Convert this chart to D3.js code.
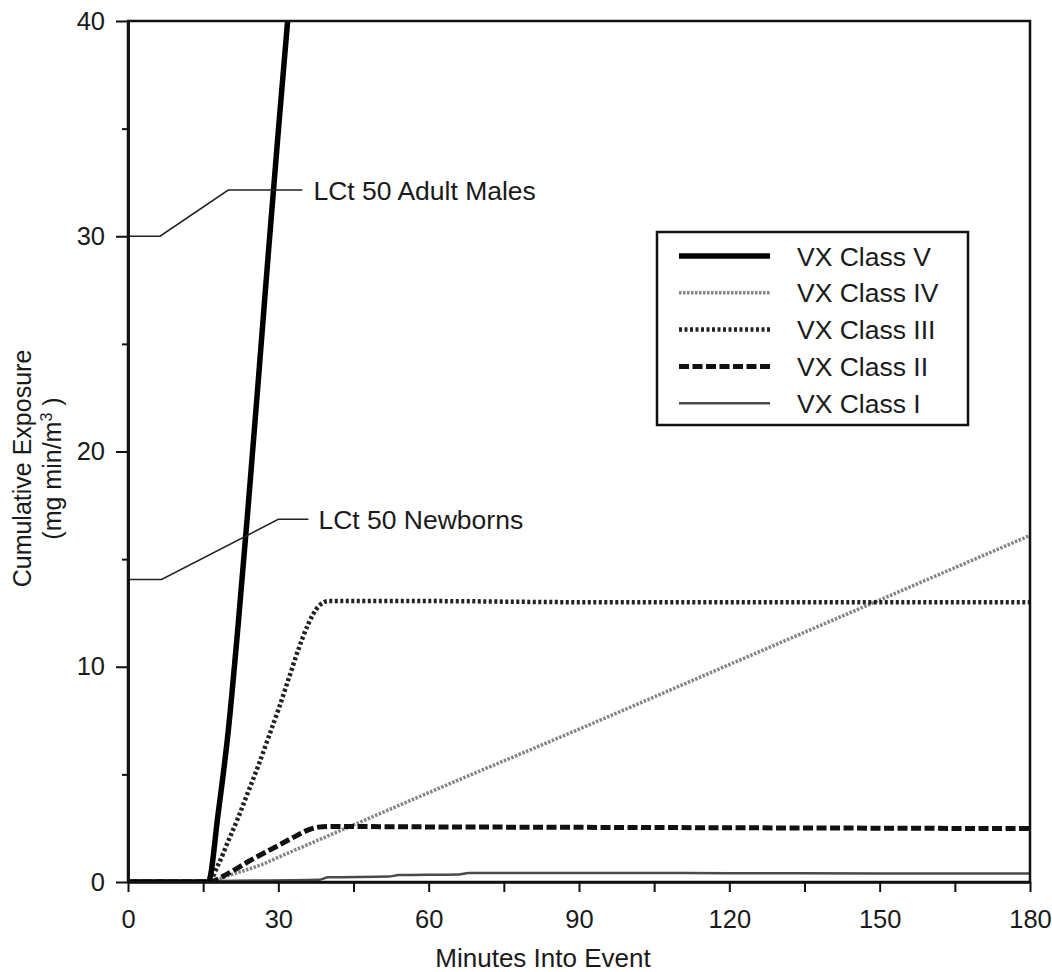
<!DOCTYPE html>
<html>
<head>
<meta charset="utf-8">
<script src="https://cdn.jsdelivr.net/npm/d3@7"></script>
<style>
  body { margin: 0; background: #fff; }
  svg text { font-family: "Liberation Sans", Arial, Helvetica, sans-serif; fill: #1a1a1a; }
</style>
</head>
<body>
<script>
// set the dimensions and margins of the graph
var margin = {top: 21, right: 22, bottom: 90, left: 128},
    width = 1052 - margin.left - margin.right,
    height = 972 - margin.top - margin.bottom;

// data (minutes, mg min/m3)
var classV_t   = [0, 16, 18, 20, 22, 24, 26, 28, 30, 32, 34];
var classV_v   = [0, 0, 3.2, 7, 12, 17.5, 23.3, 29.2, 34.9, 40.4, 46];

var classIV_t  = [0, 16, 20, 26, 32, 40, 60, 90, 120, 150, 180];
var classIV_v  = [0, 0, 0.3, 0.75, 1.35, 2.15, 4.15, 7.1, 10.1, 13.1, 16.1];

var classIII_t = [0, 16, 18, 20, 22, 24, 26, 28, 30, 32, 34, 36, 38, 40, 60, 90, 120, 150, 180];
var classIII_v = [0, 0, 0.8, 1.9, 3.0, 4.2, 5.4, 6.7, 8.0, 9.4, 10.8, 12.0, 12.8, 13.05, 13.05, 13.0, 13.0, 13.0, 13.0];

var classII_t  = [0, 16, 20, 24, 28, 32, 34, 36, 38, 40, 60, 90, 120, 150, 180];
var classII_v  = [0, 0, 0.4, 0.95, 1.45, 1.95, 2.2, 2.42, 2.55, 2.58, 2.56, 2.54, 2.52, 2.5, 2.48];

var classI_t   = [0, 16, 18, 38, 40, 52, 54, 66, 68, 90, 120, 150, 180];
var classI_v   = [0, 0, 0.05, 0.1, 0.22, 0.25, 0.32, 0.35, 0.42, 0.42, 0.41, 0.4, 0.4];

// LCt 50 leader lines
var adultLeader_t   = [0, 6.4, 20, 34.8];
var adultLeader_v   = [30, 30, 32.15, 32.15];
var newbornLeader_t = [0, 6.7, 30, 36];
var newbornLeader_v = [14.05, 14.05, 16.85, 16.85];

var xTicks = d3.range(0, 181, 15);
var yMajor = [0, 10, 20, 30, 40];
var yMinor = [5, 15, 25, 35];

var zip = (t, v) => t.map((d, i) => ({t: d, v: v[i]}));

var series = [
  {name: "VX Class IV",  data: zip(classIV_t, classIV_v),   color: "#858585", w: 3.5, dash: "2.5,1.5"},
  {name: "VX Class I",   data: zip(classI_t, classI_v),     color: "#4a4a4a", w: 2.5, dash: null},
  {name: "VX Class II",  data: zip(classII_t, classII_v),   color: "#111",    w: 5,   dash: "10,3.5"},
  {name: "VX Class III", data: zip(classIII_t, classIII_v), color: "#222",    w: 4.5, dash: "3,2.5"},
  {name: "VX Class V",   data: zip(classV_t, classV_v),     color: "#000",    w: 5.5, dash: null}
];
var legendOrder = ["VX Class V", "VX Class IV", "VX Class III", "VX Class II", "VX Class I"];

// set the ranges
var x = d3.scaleLinear().domain([0, 180]).range([0, width]);
var y = d3.scaleLinear().domain([0, 40]).range([height, 0]);

var svg = d3.select("body").append("svg")
    .attr("width", 1052)
    .attr("height", 972)
  .append("g")
    .attr("transform", "translate(" + margin.left + "," + margin.top + ")");

svg.append("clipPath").attr("id", "plot")
  .append("rect").attr("width", width).attr("height", height);

var line = d3.line()
    .curve(d3.curveMonotoneX)
    .x(d => x(d.t))
    .y(d => y(d.v));

// the series
series.forEach(s => {
  svg.append("path")
      .datum(s.data)
      .attr("clip-path", "url(#plot)")
      .attr("fill", "none")
      .attr("stroke", s.color)
      .attr("stroke-width", s.w)
      .attr("stroke-dasharray", s.dash)
      .attr("d", line);
});

// leader lines and labels
var leader = d3.line().x(d => x(d.t)).y(d => y(d.v));
[[adultLeader_t, adultLeader_v, "LCt 50 Adult Males", 37],
 [newbornLeader_t, newbornLeader_v, "LCt 50 Newborns", 38]].forEach(a => {
  svg.append("path")
      .datum(zip(a[0], a[1]))
      .attr("fill", "none")
      .attr("stroke", "#222")
      .attr("stroke-width", 1.6)
      .attr("d", leader);
  svg.append("text")
      .attr("x", x(a[3]))
      .attr("y", y(a[1][a[1].length - 1]))
      .attr("dy", "0.36em")
      .style("font-size", "26.5px")
      .text(a[2]);
});

// frame
svg.append("rect")
    .attr("width", width)
    .attr("height", height)
    .attr("fill", "none")
    .attr("stroke", "#111")
    .attr("stroke-width", 2.5);

// x axis
svg.append("g")
    .attr("transform", "translate(0," + height + ")")
    .call(d3.axisBottom(x)
        .tickValues(xTicks)
        .tickFormat(d => d % 30 === 0 ? d : "")
        .tickSizeInner(10)
        .tickSizeOuter(0)
        .tickPadding(18));

// y axis, major and minor ticks
svg.append("g")
    .call(d3.axisLeft(y)
        .tickValues(yMajor)
        .tickSizeInner(12)
        .tickSizeOuter(0)
        .tickPadding(11));
svg.append("g")
    .call(d3.axisLeft(y)
        .tickValues(yMinor)
        .tickFormat("")
        .tickSizeInner(6)
        .tickSizeOuter(0));

svg.selectAll(".domain").attr("stroke", "#111").attr("stroke-width", 2.5);
svg.selectAll(".tick line").attr("stroke", "#111").attr("stroke-width", 2);
svg.selectAll(".tick text").style("font-size", "25.5px").attr("fill", "#1a1a1a")
    .style("font-family", "'Liberation Sans', Arial, Helvetica, sans-serif");

// text label for the x axis
svg.append("text")
    .attr("x", 543 - margin.left)
    .attr("y", height + 85)
    .style("text-anchor", "middle")
    .style("font-size", "26px")
    .text("Minutes Into Event");

// text label for the y axis
var yTitle = svg.append("text")
    .attr("transform", "translate(" + (-margin.left + 31) + "," + (height / 2 + 17) + ") rotate(-90)")
    .style("text-anchor", "middle")
    .style("font-size", "25px");
yTitle.append("tspan").attr("x", 0).attr("y", 0).text("Cumulative Exposure");
yTitle.append("tspan").attr("x", 0).attr("y", 30).text("(mg min/m");
yTitle.append("tspan").attr("dy", -9).style("font-size", "16px").text("3");
yTitle.append("tspan").attr("dy", 9).text(" )");

// legend
var legend = svg.append("g")
    .attr("transform", "translate(" + (657 - margin.left) + "," + (232 - margin.top) + ")");
legend.append("rect")
    .attr("width", 311)
    .attr("height", 193)
    .attr("fill", "#fff")
    .attr("stroke", "#111")
    .attr("stroke-width", 2.5);
legendOrder.forEach((name, i) => {
  var s = series.find(d => d.name === name);
  var ly = 24 + i * 36.8;
  legend.append("line")
      .attr("x1", 22).attr("x2", 113)
      .attr("y1", ly).attr("y2", ly)
      .attr("stroke", s.color)
      .attr("stroke-width", s.w)
      .attr("stroke-dasharray", s.dash);
  legend.append("text")
      .attr("x", 140)
      .attr("y", ly)
      .attr("dy", "0.36em")
      .style("font-size", "26.5px")
      .text(name);
});
</script>
</body>
</html>
